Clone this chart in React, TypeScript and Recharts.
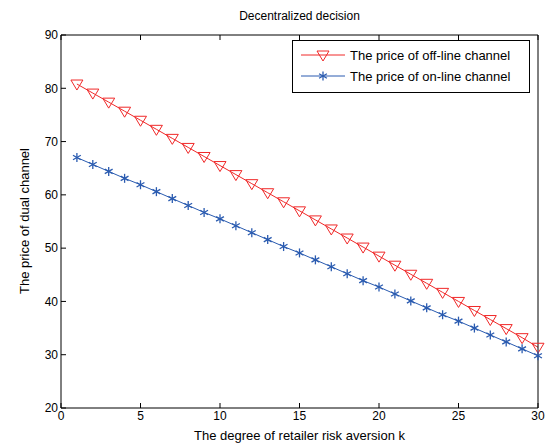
import { LineChart, Line, XAxis, YAxis } from 'recharts'

const kValues = [1, 2, 3, 4, 5, 6, 7, 8, 9, 10, 11, 12, 13, 14, 15, 16, 17, 18, 19, 20, 21, 22, 23, 24, 25, 26, 27, 28, 29, 30]
const offlinePrice = [80.8, 79.1, 77.4, 75.7, 74.0, 72.3, 70.6, 68.9, 67.2, 65.5, 63.8, 62.1, 60.4, 58.7, 57.0, 55.3, 53.6, 51.9, 50.2, 48.5, 46.8, 45.1, 43.4, 41.7, 40.0, 38.3, 36.6, 34.9, 33.2, 31.4]
const onlinePrice = [67.0, 65.7, 64.4, 63.1, 61.9, 60.6, 59.3, 58.0, 56.7, 55.5, 54.2, 52.9, 51.6, 50.3, 49.1, 47.8, 46.5, 45.2, 43.9, 42.7, 41.4, 40.1, 38.8, 37.5, 36.3, 35.0, 33.7, 32.4, 31.1, 29.8]
const xTicks = [0, 5, 10, 15, 20, 25, 30]
const yTicks = [20, 30, 40, 50, 60, 70, 80, 90]

const RED = '#f02828'
const BLUE = '#2a5bb0'
const FONT = 'Liberation Sans, Arial, sans-serif'

const data = kValues.map((k, i) => ({ k, offline: offlinePrice[i], online: onlinePrice[i] }))

function Triangle(props: any) {
  const { cx, cy } = props
  if (cx == null || cy == null) return null
  return <path d={`M${cx - 6},${cy - 4} L${cx + 6},${cy - 4} L${cx},${cy + 6} Z`} fill="none" stroke={RED} strokeWidth={1} />
}

function Star(props: any) {
  const { cx, cy } = props
  if (cx == null || cy == null) return null
  const r = 4.5
  return (
    <g stroke={BLUE} strokeWidth={1.3}>
      <line x1={cx} y1={cy - r} x2={cx} y2={cy + r} />
      <line x1={cx - r * 0.87} y1={cy - r * 0.5} x2={cx + r * 0.87} y2={cy + r * 0.5} />
      <line x1={cx - r * 0.87} y1={cy + r * 0.5} x2={cx + r * 0.87} y2={cy - r * 0.5} />
    </g>
  )
}

function LegendBox() {
  return (
    <div style={{ position: 'absolute', left: 292, top: 40, width: 238, height: 53, border: '1.5px solid #000', background: '#fff', boxSizing: 'border-box' }}>
      <svg width={236} height={50} style={{ display: 'block' }}>
        <line x1={8} y1={14} x2={52} y2={14} stroke={RED} />
        <Triangle cx={30} cy={14} />
        <text x={57} y={19} fontSize={13} fontFamily={FONT}>The price of off-line channel</text>
        <line x1={8} y1={35} x2={52} y2={35} stroke={BLUE} />
        <Star cx={30} cy={35} />
        <text x={57} y={40} fontSize={13} fontFamily={FONT}>The price of on-line channel</text>
      </svg>
    </div>
  )
}

const tickStyle = { fontSize: 12, fill: '#000', fontFamily: FONT }

export default function App() {
  return (
    <div style={{ position: 'absolute', left: 0, top: 0, width: 545, height: 446, background: '#fff', fontFamily: FONT }}>
      <LineChart width={545} height={446} data={data} margin={{ top: 34, right: 6, left: 21, bottom: 18 }} style={{ position: 'absolute', left: 0, top: 0 }}>
        <XAxis xAxisId="bottom" dataKey="k" type="number" domain={[0, 30]} ticks={xTicks} height={20} stroke="#000" tickSize={-5} tickMargin={8} tick={tickStyle} />
        <XAxis xAxisId="top" dataKey="k" orientation="top" type="number" domain={[0, 30]} ticks={xTicks} height={1} stroke="#000" tickSize={-5} tickFormatter={() => ''} />
        <YAxis yAxisId="left" type="number" domain={[20, 90]} ticks={yTicks} width={40} stroke="#000" tickSize={-5} tickMargin={8} tick={tickStyle} />
        <YAxis yAxisId="right" orientation="right" type="number" domain={[20, 90]} ticks={yTicks} width={1} stroke="#000" tickSize={-5} tickFormatter={() => ''} />
        <Line xAxisId="bottom" yAxisId="left" dataKey="offline" stroke={RED} strokeWidth={1} dot={<Triangle />} isAnimationActive={false} />
        <Line xAxisId="bottom" yAxisId="left" dataKey="online" stroke={BLUE} strokeWidth={1} dot={<Star />} isAnimationActive={false} />
      </LineChart>
      <div style={{ position: 'absolute', top: 9, left: 61, width: 477, textAlign: 'center', fontSize: 12 }}>Decentralized decision</div>
      <div style={{ position: 'absolute', top: 428, left: 61, width: 477, textAlign: 'center', fontSize: 13 }}>The degree of retailer risk aversion k</div>
      <div style={{ position: 'absolute', left: 24, top: 221, width: 0, height: 0 }}>
        <div style={{ position: 'absolute', transform: 'translate(-50%, -50%) rotate(-90deg)', whiteSpace: 'nowrap', fontSize: 13 }}>The price of dual channel</div>
      </div>
      <LegendBox />
    </div>
  )
}
